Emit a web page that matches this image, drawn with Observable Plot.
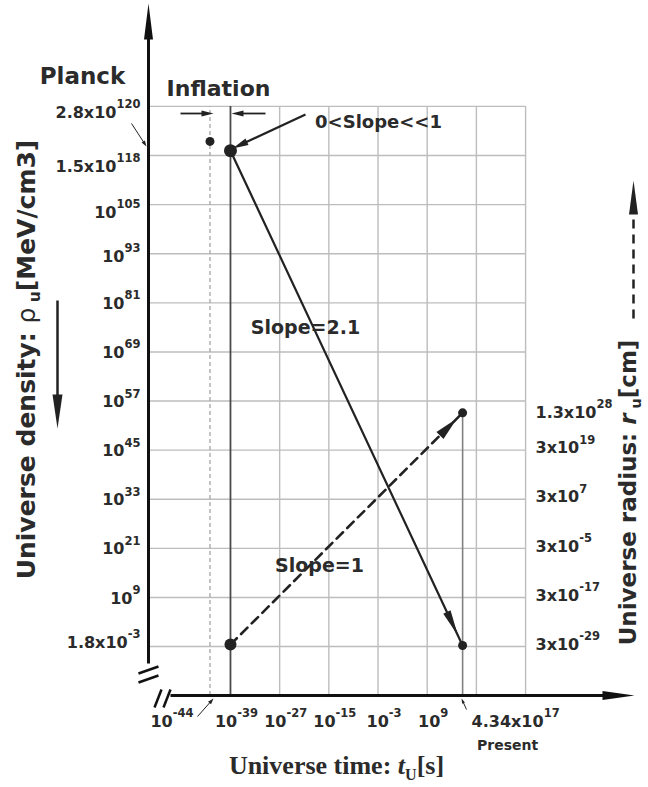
<!DOCTYPE html>
<html><head><meta charset="utf-8">
<script src="https://cdn.jsdelivr.net/npm/d3@7"></script>
<script src="https://cdn.jsdelivr.net/npm/@observablehq/plot@0.6"></script>
<style>html,body{margin:0;padding:0;background:#fff;} svg{display:block}</style>
</head><body><div id="chart"></div>
<script>
// ---------------- data ----------------
const densityTimes = [1e-44, 1e-39, 4.34e17];        // Planck, end of inflation, present [s]
const densityValues = [2.8e120, 1.5e118, 1.8e-3];    // MeV/cm3
const radiusTimes = [1e-39, 4.34e17];
const radiusValues = [3e-29, 1.3e28];                // cm
const densityGridRows = [129, 117, 105, 93, 81, 69, 57, 45, 33, 21, 9, -3];
const densityTickMantissa = ["2.8", "1.5", "", "", "", "", "", "", "", "", "", "1.8"];
const densityTickExponent = [120, 118, 105, 93, 81, 69, 57, 45, 33, 21, 9, -3];
const timeGridExponent = [-27, -15, -3, 9, 21, 33];
const timeTickExponent = [-44, -39, -27, -15, -3, 9];
const presentMantissa = "4.34", presentExponent = 17;
const radiusTickMantissa = ["1.3", "3", "3", "3", "3", "3"];
const radiusTickExponent = [28, 19, 7, -5, -17, -29];
const radiusOffset = 26; // right axis: 10^-29 cm row aligned with the 10^-3 density row
const slopeLabels = ["0<Slope<<1", "Slope=2.1", "Slope=1"];

// ---------------- layout ----------------
const W = 648, H = 787;
const mL = 148, mR = 18, mT = 5, mB = 92;
const xDomain = [-59, 58.6];
const yDomain = [-14.96, 153.66];
const kx = (W - mL - mR) / (xDomain[1] - xDomain[0]);
const ky = (H - mT - mB) / (yDomain[1] - yDomain[0]);
const X = px => xDomain[0] + (px - mL) / kx;
const Y = py => yDomain[1] - (py - mT) / ky;
const lg = Math.log10;
const INK = "#222";
const TXT = "#2b2b2b";
const FONT = "DejaVu Sans";
const GRID = "#bdbdbd";

const fmt = (m, e) => (m ? m + "x" : "") + "10^{" + e + "}";

const spike = (L, w) => ({draw(ctx) { ctx.moveTo(0, 0); ctx.lineTo(w / 2, L); ctx.lineTo(-w / 2, L); ctx.closePath(); }});

const marks = [];
const seg = (pts, opts) => Plot.link(pts.map(([a, b]) => ({x1: X(a[0]), y1: Y(a[1]), x2: X(b[0]), y2: Y(b[1])})),
  {x1: "x1", y1: "y1", x2: "x2", y2: "y2", stroke: INK, ...opts});
function arrowPx(from, tip, L, w, opts = {}) {
  const dx = tip[0] - from[0], dy = tip[1] - from[1], len = Math.hypot(dx, dy);
  const ux = dx / len, uy = dy / len;
  const end = [tip[0] - ux * L * 0.7, tip[1] - uy * L * 0.7];
  marks.push(seg([[from, end]], opts));
  marks.push(Plot.dot([{x: X(tip[0]), y: Y(tip[1]), a: Math.atan2(ux, -uy) * 180 / Math.PI}],
    {x: "x", y: "y", rotate: "a", r: 1, symbol: spike(L, w), fill: opts.stroke || INK}));
}
function headOnLine(x1, y1, x2, y2, back, L, w) {
  const dxp = (x2 - x1) * kx, dyp = -(y2 - y1) * ky, len = Math.hypot(dxp, dyp);
  const ux = dxp / len, uy = dyp / len;
  return Plot.dot([{x: x2 - back * ux / kx, y: y2 + back * uy / ky, a: Math.atan2(ux, -uy) * 180 / Math.PI}],
    {x: "x", y: "y", rotate: "a", r: 1, symbol: spike(L, w), fill: INK});
}
const label = (px, py, t, opts) => Plot.text([{x: X(px), y: Y(py), t}], {x: "x", y: "y", text: "t", fontFamily: FONT, fontWeight: "bold", fill: TXT, ...opts});

// grid
marks.push(Plot.ruleY(densityGridRows, {y: d => d, x1: () => xDomain[0], x2: () => timeGridExponent[timeGridExponent.length - 1], stroke: GRID, strokeWidth: 1.4}));
marks.push(Plot.ruleX(timeGridExponent, {x: d => d, y1: () => yDomain[0], y2: () => densityGridRows[0], stroke: GRID, strokeWidth: 1.4}));
marks.push(Plot.ruleX([lg(densityTimes[0])], {x: d => d, y1: () => yDomain[0], y2: () => densityGridRows[0], stroke: "#a5a5a5", strokeWidth: 1.3, strokeDasharray: "4,3"}));
marks.push(Plot.ruleX([lg(densityTimes[1])], {x: d => d, y1: () => yDomain[0], y2: () => densityGridRows[0], stroke: "#4a4a4a", strokeWidth: 1.8}));
marks.push(Plot.ruleX([lg(radiusTimes[1])], {x: d => d, y1: () => yDomain[0], y2: () => lg(radiusValues[1]) + radiusOffset, stroke: "#808080", strokeWidth: 1.6}));

// data lines
const dens = densityTimes.map((t, i) => ({x: lg(t), y: lg(densityValues[i])}));
const rad = radiusTimes.map((t, i) => ({x: lg(t), y: lg(radiusValues[i]) + radiusOffset}));
marks.push(Plot.line(dens.slice(1), {x: "x", y: "y", stroke: INK, strokeWidth: 2.2}));
marks.push(Plot.line(rad, {x: "x", y: "y", stroke: INK, strokeWidth: 2.6, strokeDasharray: "9,6"}));
marks.push(headOnLine(dens[1].x, dens[1].y, dens[2].x, dens[2].y, 11, 26, 8));
marks.push(headOnLine(rad[0].x, rad[0].y, rad[1].x, rad[1].y, 8, 24, 10));
marks.push(Plot.dot([dens[0]], {x: "x", y: "y", r: 4.5, fill: INK}));
marks.push(Plot.dot([dens[1]], {x: "x", y: "y", r: 6.5, fill: INK}));
marks.push(Plot.dot([dens[2]], {x: "x", y: "y", r: 4.5, fill: INK}));
marks.push(Plot.dot([rad[0]], {x: "x", y: "y", r: 6, fill: INK}));
marks.push(Plot.dot([rad[1]], {x: "x", y: "y", r: 4.5, fill: INK}));

// axes
arrowPx([148, 663], [148, 3], 36, 9, {strokeWidth: 3, stroke: "#111"});
arrowPx([170, 695], [634, 695], 32, 9, {strokeWidth: 3, stroke: "#111"});
marks.push(seg([[[138, 673], [158, 666]], [[138, 682], [158, 675]], [[154, 707], [161, 689]], [[163, 707], [170, 689]]], {strokeWidth: 2.5, stroke: "#111"}));
// side arrows
arrowPx([57, 300], [57, 428], 34, 10, {strokeWidth: 2.5});
arrowPx([633, 318], [633, 180], 34, 9, {strokeWidth: 2.5, strokeDasharray: "9,6"});
// inflation arrows
arrowPx([180, 113], [213, 113], 12, 6, {strokeWidth: 1.8});
arrowPx([265, 113], [231, 113], 12, 6, {strokeWidth: 1.8});
// slope leader
arrowPx([305, 114], [232, 148], 16, 7, {strokeWidth: 2.2});
// small leaders
arrowPx([131, 123], [146, 146], 6, 4, {strokeWidth: 1});
arrowPx([197, 716], [213, 698], 6, 4, {strokeWidth: 1});
arrowPx([466, 709], [461, 698], 5, 3, {strokeWidth: 1});

// tick labels
const leftNudge = {0: 6, 1: 11, 2: 8, 3: 3, 11: -4};
marks.push(Plot.text(densityGridRows.map((r, i) => ({y: r - (leftNudge[i] || 1) / ky, t: fmt(densityTickMantissa[i], densityTickExponent[i])})),
  {y: "y", text: "t", frameAnchor: "left", dx: -8, textAnchor: "end", fontFamily: FONT, fontWeight: "bold", fontSize: 16, fill: TXT}));
marks.push(Plot.text(timeTickExponent.map((e, i) => ({x: e + (i === 0 ? -38 / kx : 6 / kx), t: fmt("", e)})),
  {x: "x", text: "t", frameAnchor: "bottom", dy: 31, fontFamily: FONT, fontWeight: "bold", fontSize: 16, fill: TXT}));
marks.push(Plot.text([{x: lg(radiusTimes[1]) + 53 / kx, t: fmt(presentMantissa, presentExponent)}],
  {x: "x", text: "t", frameAnchor: "bottom", dy: 31, fontFamily: FONT, fontWeight: "bold", fontSize: 16, fill: TXT}));
marks.push(Plot.text([{x: lg(radiusTimes[1]) + 45 / kx, t: "Present"}],
  {x: "x", text: "t", frameAnchor: "bottom", dy: 54, fontFamily: FONT, fontWeight: "bold", fontSize: 14, fill: TXT}));
marks.push(Plot.text(radiusTickExponent.map((e, i) => ({y: lg(+radiusTickMantissa[i] * Math.pow(10, e)) + radiusOffset, t: fmt(radiusTickMantissa[i], e)})),
  {y: "y", text: "t", frameAnchor: "right", dx: -95, textAnchor: "start", fontFamily: FONT, fontWeight: "bold", fontSize: 16, fill: TXT}));

// annotations
marks.push(label(82, 76, "Planck", {fontSize: 23}));
marks.push(label(218, 88, "Inflation", {fontSize: 22}));
marks.push(label(378, 122, slopeLabels[0], {fontSize: 18}));
marks.push(label(305, 327, slopeLabels[1], {fontSize: 19}));
marks.push(label(319, 565, slopeLabels[2], {fontSize: 19}));
// axis titles
marks.push(label(26, 359, "Universe density: ~{ρ}_{ u}[MeV/cm3]", {fontSize: 25, rotate: -90}));
marks.push(label(628, 492, "Universe radius: *{r}_{ u}[cm]", {fontSize: 23, rotate: -90}));
marks.push(label(336, 765, "Universe time: *{t}_{U}[s]", {fontSize: 26, fontFamily: "Liberation Serif"}));

const chart = Plot.plot({
  width: W, height: H,
  marginLeft: mL, marginRight: mR, marginTop: mT, marginBottom: mB,
  x: {type: "linear", domain: xDomain, axis: null},
  y: {type: "linear", domain: yDomain, axis: null},
  style: {background: "#fff", overflow: "visible"},
  marks
});
document.getElementById("chart").appendChild(chart);

// superscript / subscript / italic / normal markup -> tspans
chart.querySelectorAll("text").forEach(el => {
  const s = el.textContent;
  if (!/[\^_*~]\{/.test(s)) return;
  const fs = parseFloat(getComputedStyle(el).fontSize) || 16;
  el.textContent = "";
  const re = /([\^_*~])\{([^}]*)\}/g;
  let last = 0, m, shift = 0;
  const add = (txt, attrs) => {
    const t = document.createElementNS("http://www.w3.org/2000/svg", "tspan");
    t.textContent = txt;
    for (const k in attrs) t.setAttribute(k, attrs[k]);
    el.appendChild(t);
  };
  while ((m = re.exec(s))) {
    if (m.index > last) { add(s.slice(last, m.index), {dy: -shift}); shift = 0; }
    const op = m[1], txt = m[2];
    if (op === "^") { const d = -0.6 * fs; add(txt, {dy: d - shift, "font-size": 0.72 * fs}); shift = d; }
    else if (op === "_") { const d = 0.22 * fs; add(txt, {dy: d - shift, "font-size": 0.62 * fs}); shift = d; }
    else if (op === "*") { add(txt, {dy: -shift, "font-style": "italic"}); shift = 0; }
    else { add(txt, {dy: -shift, "font-weight": "normal"}); shift = 0; }
    last = re.lastIndex;
  }
  if (last < s.length) add(s.slice(last), {dy: -shift});
});
</script></body></html>
